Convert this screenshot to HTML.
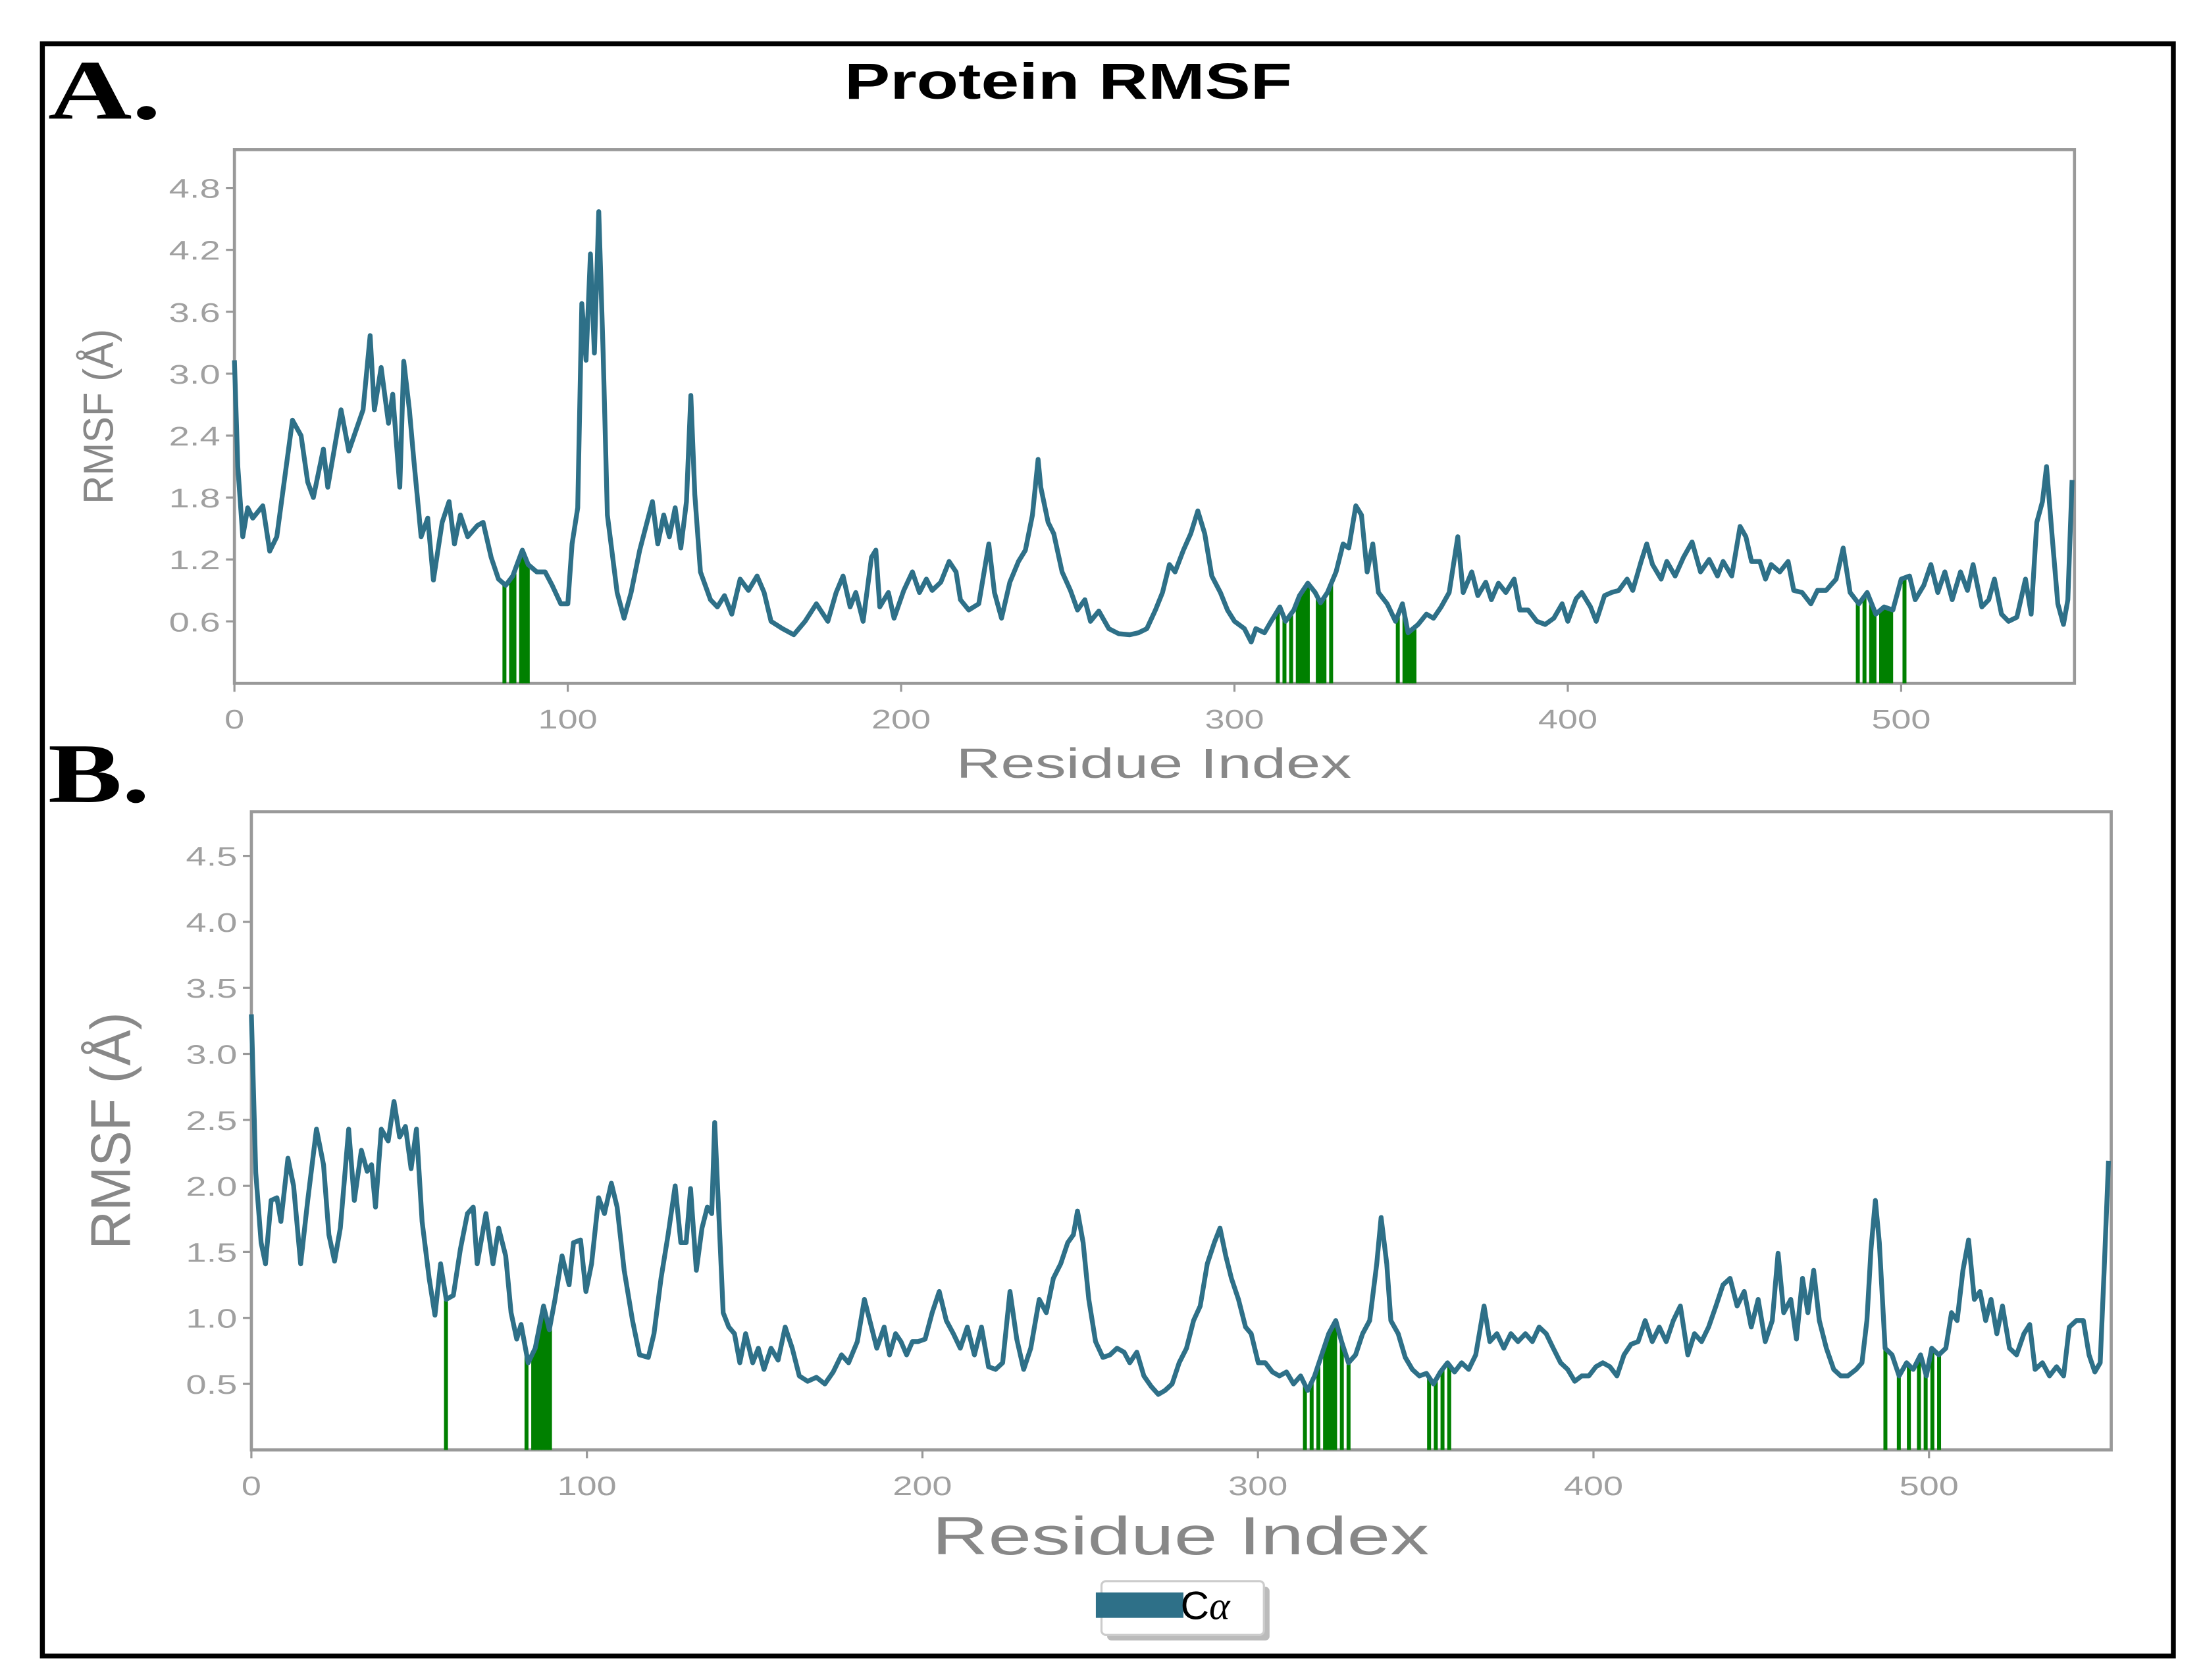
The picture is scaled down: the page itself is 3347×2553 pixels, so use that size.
<!DOCTYPE html>
<html><head><meta charset="utf-8"><style>
html,body{margin:0;padding:0;background:#fff;}
svg{display:block;}
</style></head><body>
<svg id="chart" width="3347" height="2553" viewBox="0 0 1560 1190" preserveAspectRatio="none" xmlns="http://www.w3.org/2000/svg" font-family="Liberation Sans, sans-serif">
<rect x="0" y="0" width="1560" height="1190" fill="#fff"/>
<rect x="30" y="31" width="1509" height="1142" fill="none" stroke="#000" stroke-width="3.5"/>
<text x="598" y="70" font-size="36" font-weight="bold" fill="#000" textLength="317" lengthAdjust="spacingAndGlyphs">Protein RMSF</text>
<text x="34" y="84" style="font-family:'Liberation Serif',serif" font-size="60" font-weight="bold" fill="#000" textLength="80" lengthAdjust="spacingAndGlyphs">A.</text>
<text x="34" y="568" style="font-family:'Liberation Serif',serif" font-size="60" font-weight="bold" fill="#000" textLength="72" lengthAdjust="spacingAndGlyphs">B.</text>
<g id="panelA"></g>
<g id="panelB"></g>
<g>
<rect x="784" y="1124" width="115" height="38" fill="#bbb" rx="3"/>
<rect x="780" y="1120" width="115" height="38" fill="#fff" stroke="#ccc" stroke-width="1.5" rx="3"/>
<rect x="776" y="1128" width="62" height="18" fill="#2e7088"/>
<text x="836" y="1147" font-size="28" fill="#000">C<tspan font-style="italic" style="font-family:'Liberation Serif',serif">α</tspan></text>
</g>
</svg>
<script>
const resA=[0,1,2.5,4,5.5,8.5,10.6,12.7,17.4,20,22,23.7,26.7,28,32,34.3,38.6,40.7,42,44,46.2,47.5,49.6,50.8,52.5,53.8,56,58,59.7,62.3,64.4,66,67.8,70,72.9,74.6,77,79.2,81.4,83.5,86.4,88.1,90.7,93.2,95.3,97.9,100,101.3,103,104.2,105.5,106.8,108,109.3,110.6,111.9,114.8,116.9,119,121.6,125.4,127,128.8,130.5,132.2,133.9,135.6,136.9,138.1,139.8,142.8,144.9,147,149.2,151.7,154.2,156.8,158.9,161,164.4,167.8,171.2,174.6,178,180.5,182.6,184.7,186.4,188.6,191.1,192.4,193.6,196.2,197.9,200.8,203.4,205.5,207.6,209.3,211.9,214.4,216.5,217.8,220.3,223.3,226.3,228,230.1,232.6,235.2,237.3,239.4,241.1,241.9,244.1,245.8,248.3,250.8,252.9,255.1,256.8,259.3,262.3,265.3,268.6,271.2,273.7,276.3,278.4,280.5,282.2,284.7,286.9,289,291.1,293.2,295.8,297.9,300,303,305,306.4,309,311,313.6,315.3,317.8,319.5,322,324.2,325.8,327.9,330.5,332.6,334.3,336.4,338.1,339.8,341.5,343.2,345.8,348.3,350.4,352.1,355.1,357.6,359.7,362,364.4,367,368.6,371.2,373,375.4,377.1,379.2,381.4,383.9,385.6,388.1,390.7,393.2,395.8,398.3,400,402.5,404.2,406.8,408.5,411,413.1,415.3,417.8,419.5,422,423.7,425.4,428,429.7,432.2,434.7,437.3,439.8,442.4,444.9,446.6,449.2,451.7,453.4,455.1,457.6,459.3,461,463.6,466.1,467.8,470.3,472.9,474.9,477.5,480.5,482.6,484.7,487.3,489.8,492.4,494.9,497.5,500,502.5,504.2,506.8,508.9,511,513.1,515.3,517.8,519.9,521.6,524.2,526.3,528,530.1,532.2,534.7,537.3,539,540.7,542.4,543.6,545.3,547,548.7,550,551.3];
const rmsfA=[3.13,2.1,1.42,1.7,1.6,1.72,1.28,1.42,2.55,2.4,1.95,1.8,2.27,1.9,2.65,2.25,2.65,3.37,2.65,3.06,2.52,2.8,1.9,3.12,2.65,2.17,1.42,1.6,1.0,1.56,1.76,1.35,1.63,1.42,1.53,1.56,1.22,1.01,0.95,1.04,1.29,1.15,1.08,1.08,0.95,0.77,0.77,1.35,1.7,3.68,3.13,4.16,3.2,4.57,3.2,1.63,0.88,0.63,0.88,1.29,1.76,1.35,1.63,1.42,1.7,1.31,1.76,2.79,1.83,1.08,0.81,0.74,0.85,0.67,1.01,0.9,1.04,0.88,0.6,0.53,0.47,0.6,0.77,0.6,0.88,1.04,0.74,0.88,0.6,1.22,1.29,0.74,0.88,0.63,0.9,1.08,0.88,1.01,0.9,0.98,1.18,1.08,0.81,0.71,0.77,1.35,0.88,0.63,0.98,1.18,1.29,1.63,2.17,1.9,1.56,1.45,1.08,0.9,0.71,0.81,0.6,0.7,0.53,0.48,0.47,0.49,0.53,0.71,0.88,1.15,1.08,1.29,1.45,1.67,1.45,1.04,0.88,0.71,0.6,0.53,0.4,0.53,0.49,0.6,0.74,0.6,0.71,0.85,0.97,0.88,0.78,0.88,1.08,1.35,1.31,1.72,1.63,1.08,1.35,0.88,0.77,0.6,0.77,0.49,0.57,0.67,0.63,0.74,0.88,1.42,0.88,1.08,0.85,0.98,0.81,0.97,0.88,1.01,0.71,0.71,0.6,0.57,0.63,0.77,0.6,0.82,0.88,0.74,0.6,0.85,0.88,0.9,1.01,0.9,1.18,1.35,1.15,1.01,1.18,1.04,1.22,1.37,1.08,1.2,1.04,1.18,1.04,1.52,1.42,1.18,1.18,1.01,1.15,1.08,1.18,0.9,0.88,0.77,0.9,0.9,1.01,1.31,0.88,0.77,0.88,0.67,0.74,0.71,1.01,1.04,0.81,0.95,1.15,0.88,1.08,0.81,1.08,0.9,1.15,0.74,0.81,1.01,0.67,0.6,0.64,1.01,0.67,1.56,1.76,2.1,1.42,0.77,0.57,0.81,1.97];
const contactsA=[81,83,84,86,87,88,313,315,317,319,320,321,322,325,326,327,329,349,351,352,353,354,487,489,491,492,494,495,496,497,501];
const xTicksA=[0,100,200,300,400,500];
const yTicksA=[0.6,1.2,1.8,2.4,3.0,3.6,4.2,4.8];

const resB=[0,1.3,2.9,4.2,5.9,7.6,8.8,10.9,12.6,14.7,16.8,19.4,21.5,23.1,24.8,26.5,29,30.7,32.8,34.5,35.8,37,38.7,40.8,42.5,44.2,45.9,47.6,49.2,50.9,53,54.7,56.4,58.1,60.2,62.3,64.4,66.1,67.3,69.9,72,73.7,75.8,77.4,79.1,80.4,82.5,84.6,87.1,88.8,90.5,92.6,94.7,96,98.1,99.7,101.4,103.5,105.2,107.3,109,111.1,113.6,115.7,118.3,120,122.1,124.2,126.3,128,129.6,130.9,132.6,134.3,135.9,137.2,138.1,139.3,140.6,142.3,144,145.6,147.3,149.4,151.1,152.8,154.9,157,159.1,161.2,163.3,165.8,168.4,170.9,173.4,175.9,178,180.6,182.7,184.8,186.4,188.6,190.2,192,193.6,195.3,197,198.7,200.8,202.9,205,207.1,209.2,211.3,213.4,215.5,217.6,219.7,221.8,223.9,226.1,228.1,230.2,232.3,234.8,236.9,239,241.2,243.3,245,246.2,247.9,249.6,251.6,253.8,255.9,258,260.1,261.8,263.9,266,268.2,270.3,272.3,274.4,276.5,278.7,280.8,282.8,284.9,287,288.7,290.4,292.1,294.2,296.3,298,300.1,302.2,304.3,306.4,308.5,310.6,312.7,314.8,316.9,319,321.1,323.2,324.9,327,329.1,331.2,333.3,335.4,336.7,338.4,339.6,341.8,343.9,346,348.1,350.2,352.3,354.4,356.5,358.6,360.7,362.8,364.9,367.4,369.1,371.2,373.3,375.4,377.5,379.7,381.8,383.8,385.9,388,390.2,392.3,394.4,396.5,398.6,400.7,402.8,404.9,407,409.1,411.2,413.3,415.4,417.5,419.6,421.7,423.8,425.9,428.1,430.1,432.2,434.3,436.5,438.6,440.7,442.8,444.9,447,449.1,451.2,453.3,455,456.7,458.8,460.5,462.3,463.9,465.6,467.3,469.4,471.6,473.7,475.8,478.3,480,481.5,482.7,484,485.2,486.9,489,491.1,493.3,495.3,497.5,499.2,500.8,502.9,505,506.7,508.4,510.1,511.8,513.5,515.2,516.9,518.5,520.2,521.9,524,526.1,528.3,530,531.6,533.8,535.9,538,540.1,541.8,543.9,546,547.7,549.4,551,552.2,553.5];
const rmsfB=[3.3,2.1,1.57,1.41,1.89,1.91,1.73,2.21,2.0,1.41,1.89,2.43,2.16,1.63,1.43,1.68,2.43,1.89,2.27,2.11,2.16,1.84,2.43,2.34,2.64,2.37,2.45,2.13,2.43,1.73,1.3,1.02,1.41,1.14,1.17,1.52,1.79,1.84,1.41,1.79,1.41,1.68,1.47,1.04,0.84,0.95,0.66,0.77,1.09,0.91,1.14,1.47,1.25,1.57,1.59,1.2,1.41,1.91,1.79,2.02,1.84,1.36,0.98,0.72,0.7,0.88,1.3,1.63,2.0,1.57,1.57,1.98,1.36,1.68,1.84,1.79,2.48,1.79,1.04,0.93,0.88,0.66,0.88,0.66,0.77,0.61,0.77,0.68,0.93,0.77,0.56,0.52,0.55,0.5,0.59,0.72,0.66,0.82,1.14,0.93,0.77,0.93,0.72,0.88,0.82,0.72,0.82,0.82,0.84,1.04,1.2,0.98,0.88,0.77,0.93,0.72,0.93,0.63,0.61,0.66,1.2,0.84,0.61,0.77,1.14,1.04,1.3,1.41,1.57,1.63,1.81,1.57,1.14,0.82,0.7,0.72,0.77,0.74,0.66,0.74,0.56,0.48,0.42,0.45,0.5,0.66,0.77,0.98,1.09,1.41,1.57,1.68,1.47,1.3,1.14,0.93,0.88,0.66,0.66,0.59,0.56,0.59,0.5,0.56,0.45,0.56,0.72,0.88,0.98,0.82,0.66,0.72,0.88,0.98,1.41,1.76,1.41,0.98,0.88,0.7,0.61,0.56,0.58,0.5,0.59,0.66,0.59,0.66,0.61,0.72,1.09,0.82,0.88,0.77,0.88,0.82,0.88,0.82,0.93,0.88,0.77,0.66,0.61,0.52,0.56,0.56,0.63,0.66,0.63,0.56,0.72,0.8,0.82,0.98,0.82,0.93,0.82,0.98,1.09,0.72,0.88,0.82,0.93,1.09,1.25,1.3,1.09,1.2,0.93,1.14,0.82,0.98,1.49,1.04,1.14,0.84,1.3,1.04,1.36,0.98,0.77,0.61,0.56,0.56,0.61,0.66,0.98,1.52,1.89,1.57,0.77,0.72,0.56,0.66,0.61,0.72,0.56,0.77,0.72,0.77,1.04,0.98,1.36,1.59,1.14,1.2,0.98,1.14,0.88,1.09,0.77,0.72,0.88,0.95,0.61,0.66,0.56,0.63,0.56,0.93,0.98,0.98,0.72,0.59,0.66,1.36,2.19];
const contactsB=[58,82,84,85,86,87,88,89,314,316,318,320,321,322,323,325,327,351,353,355,357,487,491,494,497,499,501,503];
const xTicksB=[0,100,200,300,400,500];
const yTicksB=[0.5,1.0,1.5,2.0,2.5,3.0,3.5,4.0,4.5];

const NS='http://www.w3.org/2000/svg';
function mk(tag,attrs,parent){const e=document.createElementNS(NS,tag);for(const k in attrs)e.setAttribute(k,attrs[k]);parent.appendChild(e);return e;}
function interp(res,vals,r){for(let i=1;i<res.length;i++){if(r<=res[i]){const t=(r-res[i-1])/(res[i]-res[i-1]);return vals[i-1]+t*(vals[i]-vals[i-1]);}}return vals[vals.length-1];}

function drawPanel(g,cfg){
  const {left,top,right,bottom,xmax,ymax,res,vals,contacts,xTicks,yTicks,tickFont,charW,xlabY,xlabSize,xlabW,ylabX,ylabSize,ylabW,xlabX}=cfg;
  const xs=v=>left+(v/xmax)*(right-left);
  const ys=v=>bottom-(v/ymax)*(bottom-top);
  const frame=mk('rect',{x:left,y:top,width:right-left,height:bottom-top,fill:'#fff',stroke:'#999','stroke-width':2.2},g);
  
  
  xTicks.forEach(t=>{
    const l=mk('line',{x1:xs(t),x2:xs(t),y1:bottom,y2:bottom+6,stroke:'#999','stroke-width':1.5},g);
    
    
    const s=String(t);
    const tx=mk('text',{x:xs(t),y:bottom+32,'text-anchor':'middle','font-size':tickFont,fill:'#a0a0a0',textLength:charW*s.length,lengthAdjust:'spacingAndGlyphs'},g);
    tx.textContent=s;
    
    
  });
  yTicks.forEach(t=>{
    const l=mk('line',{x1:left-6,x2:left,y1:ys(t),y2:ys(t),stroke:'#999','stroke-width':1.5},g);
    
    
    const s=t.toFixed(1);
    const tx=mk('text',{x:left-10,y:ys(t)+7,'text-anchor':'end','font-size':tickFont,fill:'#a0a0a0',textLength:charW*2.6,lengthAdjust:'spacingAndGlyphs'},g);
    tx.textContent=s;
    
    
  });
  contacts.forEach(r=>{
    const v=interp(res,vals,r);
    const b=mk('rect',{x:xs(r)-1.4,y:ys(v),width:2.8,height:bottom-ys(v),fill:'#008000'},g);
    
    
  });
  const pts=res.map((r,i)=>xs(r).toFixed(1)+','+ys(vals[i]).toFixed(1)).join(' ');
  const pl=mk('polyline',{points:pts,fill:'none',stroke:'#2e7088','stroke-width':3.4,'stroke-linejoin':'round'},g);
  
  
  const xl=mk('text',{x:xlabX-xlabW/2,y:xlabY,'font-size':xlabSize,fill:'#888',textLength:xlabW,lengthAdjust:'spacingAndGlyphs'},g);
  xl.textContent='Residue Index';
  
  
  const cy=(top+bottom)/2;
  const yl=mk('text',{x:ylabX-ylabW/2,y:cy,'font-size':ylabSize,fill:'#888',textLength:ylabW,lengthAdjust:'spacingAndGlyphs',transform:'rotate(-90 '+ylabX+' '+cy+')'},g);
  yl.textContent='RMSF (Å)';
  
  
}
drawPanel(document.getElementById('panelA'),{left:166,top:106,right:1469,bottom:484,xmax:552,ymax:(484-106)/73.1,res:resA,vals:rmsfA,contacts:contactsA,xTicks:xTicksA,yTicks:yTicksA,tickFont:19,charW:14,xlabY:551,xlabSize:30,xlabW:280,xlabX:817,ylabX:80,ylabSize:30,ylabW:124});
drawPanel(document.getElementById('panelB'),{left:178,top:575,right:1495,bottom:1027,xmax:554.3,ymax:(1027-575)/93.5,res:resB,vals:rmsfB,contacts:contactsB,xTicks:xTicksB,yTicks:yTicksB,tickFont:19,charW:14,xlabY:1101,xlabSize:38,xlabW:352,xlabX:836,ylabX:92,ylabSize:40,ylabW:168});
</script>
</body></html>
